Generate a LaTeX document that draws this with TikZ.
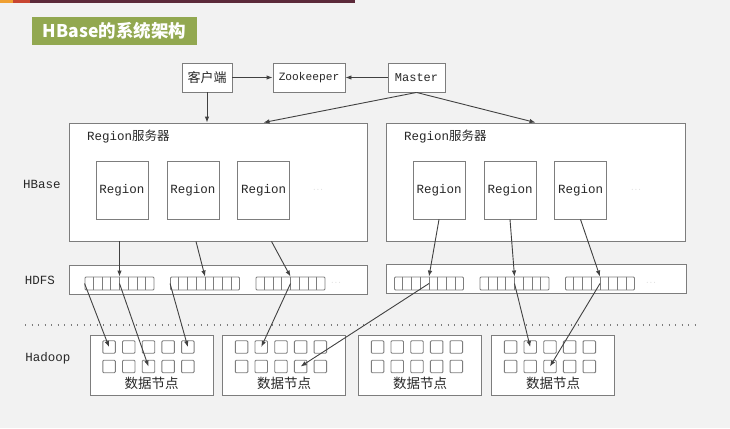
\documentclass[tikz,border=0pt]{standalone}
\usepackage{xcolor}
\usepackage{fontspec}
\setmainfont{Liberation Mono}
\newfontfamily\cjk{Noto Sans CJK SC}
\usepackage{tikz}
\usetikzlibrary{shapes,arrows.meta,calc,positioning}

\definecolor{bgcol}{RGB}{242,242,242}
\definecolor{boxline}{RGB}{125,125,125}
\definecolor{arrcol}{RGB}{65,65,65}
\definecolor{txtcol}{RGB}{40,40,40}
\definecolor{titlegreen}{RGB}{146,168,80}
\definecolor{barorange}{RGB}{240,160,50}
\definecolor{barred}{RGB}{200,70,50}
\definecolor{barmaroon}{RGB}{92,42,58}

\begin{document}
\begin{tikzpicture}[x=1pt,y=-1pt, arrow/.style = {draw=arrcol, line width=0.9pt, -{Latex[length=6pt,width=4.5pt]}}]
		\tikzset{box/.style={draw=boxline,fill=white,rectangle,inner sep=0pt,line width=0.9pt,text=txtcol,align=center}}
		\tikzset{sq/.style={draw=boxline,fill=white,rectangle,rounded corners=1pt,inner sep=0pt,line width=0.9pt,minimum size=12.5pt}}
		\tikzset{label/.style={text=txtcol,inner sep=0pt,font=\fontsize{12.5}{12.5}\selectfont}}
		\tikzset{dots/.style={text=boxline!70,inner sep=0pt,font=\fontsize{7}{7}\selectfont}}

		% Background
		\fill[bgcol] (0,0) rectangle (730,428);
		\useasboundingbox (0,0) rectangle (730,428);

		% Top bar and title
		\fill[barorange] (0,0) rectangle (13,3.5);
		\fill[barred] (13,0) rectangle (30,3.5);
		\fill[barmaroon] (30,0) rectangle (355,3.5);
		\node[rectangle, fill=titlegreen, minimum width=165pt, minimum height=28pt, inner sep=0pt, text=white, font=\cjk\bfseries\fontsize{17.5}{17.5}\selectfont] (title) at (114.5,31) {HBase的系统架构};

		% Client, Zookeeper, Master
		\node[box, minimum width=50pt, minimum height=29pt, font=\cjk\fontsize{13}{13}\selectfont] (client) at (207,77.5) {客户端};
		\node[box, minimum width=72pt, minimum height=29pt, font=\fontsize{11.2}{11.2}\selectfont] (zookeeper) at (309,77.5) {Zookeeper};
		\node[box, minimum width=57pt, minimum height=29pt, font=\fontsize{12}{12}\selectfont] (master) at (416.5,77.5) {Master};

		% Region servers
		\node[box, minimum width=298pt, minimum height=118pt] (rsleft) at (218,182) {};
		\node[box, minimum width=299pt, minimum height=118pt] (rsright) at (535.5,182) {};
		\node[label, anchor=west] (rslefttitle) at (87,137) {Region{\cjk 服务器}};
		\node[label, anchor=west] (rsrighttitle) at (404,137) {Region{\cjk 服务器}};

		% Regions
		\foreach \name/\x in {rl1/122, rl2/193, rl3/263.5, rr1/439, rr2/510, rr3/580.5}
			\node[box, minimum width=52pt, minimum height=58pt, font=\fontsize{12.5}{12.5}\selectfont] (\name) at (\x,190) {Region};
		\node[dots] (rldots) at (318,190) {$\cdots$};
		\node[dots] (rrdots) at (636,190) {$\cdots$};

		% HDFS
		\node[box, minimum width=298pt, minimum height=29pt] (hdfsleft) at (218,279.5) {};
		\node[box, minimum width=300pt, minimum height=29pt] (hdfsright) at (536,278.5) {};
		\foreach \name/\x in {bl1/119.5, bl2/205, bl3/290.5, br1/429, br2/514.5, br3/600}{
			\node[box, rounded corners=1pt, minimum width=69pt, minimum height=13pt] (\name) at (\x,283.5) {};
			\foreach \k in {1,...,7}
				\draw[boxline, line width=0.9pt] ($(\name.north west)!\k/8!(\name.north east)$) -- ($(\name.south west)!\k/8!(\name.south east)$);
		}
		\node[dots] (hldots) at (336,283) {$\cdots$};
		\node[dots] (hrdots) at (651,283) {$\cdots$};

		% Separator
		\draw[boxline, line width=1.3pt, dash pattern=on 1.3pt off 5.2pt] (25,325) -- (695,325);

		% Data nodes
		\foreach \i/\x in {1/151.5, 2/284, 3/420, 4/553}{
			\node[box, minimum width=123pt, minimum height=60pt] (dn\i) at (\x,365) {};
			\foreach \c in {1,...,5}{
				\node[sq] (dn\i-1-\c) at ($(dn\i.west)+(19.5+19.7*\c-19.7,-18)$) {};
				\node[sq] (dn\i-2-\c) at ($(dn\i.west)+(19.5+19.7*\c-19.7,1.5)$) {};
			}
			\node[label, font=\cjk\fontsize{13.5}{13.5}\selectfont] (dn\i label) at (\x,383.5) {数据节点};
		}

		% Layer labels
		\node[label] (hbaselabel) at (42,184) {HBase};
		\node[label] (hdfslabel) at (40,280) {HDFS};
		\node[label] (hadooplabel) at (48,358) {Hadoop};

		% Arrows
		\draw [arrow] (client) -- (zookeeper);
		\draw [arrow] (master) -- (zookeeper);
		\draw [arrow] (client) -- (client |- rsleft.north);
		\draw [arrow] (master.south) -- (rsleft.north -| rl3);
		\draw [arrow] (master.south) -- (rsright.north);

		\draw [arrow] (rsleft.south -| bl1) -- (bl1.north);
		\draw [arrow] ([xshift=3pt]rsleft.south -| rl2) -- (bl2.north);
		\draw [arrow] ([xshift=8pt]rsleft.south -| rl3) -- (bl3.north);
		\draw [arrow] (rr1.south) -- (br1.north);
		\draw [arrow] (rr2.south) -- (br2.north);
		\draw [arrow] (rr3.south) -- (br3.north);

		\draw [arrow] (bl1.west) -- (dn1-1-1.center);
		\draw [arrow] (bl1.center) -- (dn1-2-3.center);
		\draw [arrow] (bl2.west) -- (dn1-1-5.center);
		\draw [arrow] (bl3.center) -- (dn2-1-2.center);
		\draw [arrow] (br1.center) -- (dn2-2-4.center);
		\draw [arrow] (br2.center) -- (dn4-1-2.center);
		\draw [arrow] (br3.center) -- (dn4-2-3.center);

	\end{tikzpicture}
\end{document}
